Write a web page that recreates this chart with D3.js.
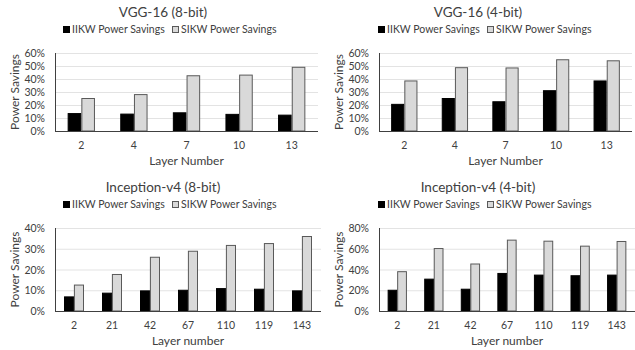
<!DOCTYPE html>
<html lang="en">
<head>
<meta charset="UTF-8">
<script src="https://d3js.org/d3.v7.min.js"></script>
<title>Power Savings</title>
<style>
  body { margin: 0; background: #fff; }
  text { font-family: Lato, "Open Sans", sans-serif; fill: #404040; }
</style>
</head>
<body>
<svg id="chart" width="635" height="350"></svg>
<script>
// data
var seriesNames = ["IIKW Power Savings", "SIKW Power Savings"];
var vggLayers = ["2", "4", "7", "10", "13"];
var incLayers = ["2", "21", "42", "67", "110", "119", "143"];

var vgg8IIKW = [13.4, 13.0, 14.0, 12.8, 12.2];
var vgg8SIKW = [25.0, 28.0, 42.5, 43.0, 49.0];
var vgg4IIKW = [20.5, 25.0, 22.5, 31.0, 38.5];
var vgg4SIKW = [38.5, 48.7, 48.5, 54.8, 54.0];
var inc8IIKW = [6.8, 8.6, 9.7, 10.0, 10.8, 10.5, 9.7];
var inc8SIKW = [12.5, 17.6, 25.9, 28.8, 31.6, 32.5, 35.9];
var inc4IIKW = [20.0, 30.7, 21.0, 36.2, 34.6, 34.0, 34.6];
var inc4SIKW = [37.9, 60.2, 45.3, 68.3, 67.3, 62.5, 67.0];

var svg = d3.select("#chart");
var colors = ["#000000", "#d9d9d9"];

function drawPanel(p) {
  var g = svg.append("g");
  var x = d3.scaleBand().domain(p.cats).range([p.x0, p.x1]);
  var xs = d3.scaleBand().domain(seriesNames)
      .range([x.bandwidth() * 0.25, x.bandwidth() * 0.75]).paddingInner(0.08);
  var y = d3.scaleLinear().domain([0, p.max]).range([p.y1, p.y0]);

  // gridlines
  g.selectAll(".grid").data(p.ticks.slice(1)).enter().append("line")
      .attr("x1", p.x0).attr("x2", p.x1)
      .attr("y1", function(d) { return y(d) + 0.5; })
      .attr("y2", function(d) { return y(d) + 0.5; })
      .attr("stroke", "#e3e3e3").attr("stroke-width", 1);

  // y labels
  g.selectAll(".yl").data(p.ticks).enter().append("text")
      .attr("x", p.x0 - 10).attr("y", function(d) { return y(d) + 4; })
      .attr("text-anchor", "end").attr("font-size", 10.5)
      .text(function(d) { return d + "%"; });

  // bars
  var rows = p.cats.map(function(c, i) { return {cat: c, vals: [p.a[i], p.b[i]]}; });
  var grp = g.selectAll(".grp").data(rows).enter().append("g")
      .attr("transform", function(d) { return "translate(" + x(d.cat) + ",0)"; });
  grp.selectAll("rect").data(function(d) { return d.vals; }).enter().append("rect")
      .attr("x", function(d, i) { return xs(seriesNames[i]); })
      .attr("width", xs.bandwidth())
      .attr("y", function(d) { return y(d); })
      .attr("height", function(d) { return y(0) - y(d); })
      .attr("fill", function(d, i) { return colors[i]; })
      .attr("stroke", function(d, i) { return i ? "#595959" : "#000"; })
      .attr("stroke-width", 1);

  // axes lines
  g.append("line").attr("x1", p.x0 + 0.5).attr("x2", p.x0 + 0.5)
      .attr("y1", p.y0).attr("y2", p.y1).attr("stroke", "#404040");
  g.append("line").attr("x1", p.x0).attr("x2", p.x1)
      .attr("y1", p.y1 + 0.5).attr("y2", p.y1 + 0.5).attr("stroke", "#404040");

  // x labels
  g.selectAll(".xl").data(p.cats).enter().append("text")
      .attr("x", function(d) { return x(d) + x.bandwidth() / 2; })
      .attr("y", p.y1 + 18).attr("text-anchor", "middle").attr("font-size", 10.5)
      .text(function(d) { return d; });

  // title
  g.append("text").attr("x", p.tx).attr("y", p.y0 - 36)
      .attr("text-anchor", "middle").attr("font-size", 13.5).text(p.title);

  // legend
  var lg = g.append("g").attr("transform", "translate(" + (p.tx - 100) + "," + (p.y0 - 20) + ")");
  seriesNames.forEach(function(s, i) {
    var lx = i * 109;
    lg.append("rect").attr("x", lx + 0.5).attr("y", -6.5).attr("width", 6).attr("height", 6)
        .attr("fill", colors[i]).attr("stroke", i ? "#595959" : "#000");
    lg.append("text").attr("x", lx + 9).attr("y", 0).attr("font-size", 10.5).text(s);
  });

  // axis titles
  g.append("text").attr("x", (p.x0 + p.x1) / 2).attr("y", p.y1 + 34)
      .attr("text-anchor", "middle").attr("font-size", 12).text(p.xTitle);
  g.append("text")
      .attr("transform", "translate(" + (p.x0 - 36) + "," + ((p.y0 + p.y1) / 2) + ") rotate(-90)")
      .attr("text-anchor", "middle").attr("font-size", 12).text("Power Savings");
}

drawPanel({title: "VGG-16 (8-bit)", cats: vggLayers, a: vgg8IIKW, b: vgg8SIKW,
  max: 60, ticks: [0, 10, 20, 30, 40, 50, 60], x0: 55, x1: 318, y0: 53, y1: 131, tx: 163, xTitle: "Layer Number"});
drawPanel({title: "VGG-16 (4-bit)", cats: vggLayers, a: vgg4IIKW, b: vgg4SIKW,
  max: 60, ticks: [0, 10, 20, 30, 40, 50, 60], x0: 379, x1: 632, y0: 53, y1: 131, tx: 478, xTitle: "Layer Number"});
drawPanel({title: "Inception-v4 (8-bit)", cats: incLayers, a: inc8IIKW, b: inc8SIKW,
  max: 40, ticks: [0, 10, 20, 30, 40], x0: 55, x1: 321, y0: 228, y1: 311, tx: 163, xTitle: "Layer number"});
drawPanel({title: "Inception-v4 (4-bit)", cats: incLayers, a: inc4IIKW, b: inc4SIKW,
  max: 80, ticks: [0, 20, 40, 60, 80], x0: 379, x1: 635, y0: 228, y1: 311, tx: 478, xTitle: "Layer number"});
</script>
</body>
</html>
